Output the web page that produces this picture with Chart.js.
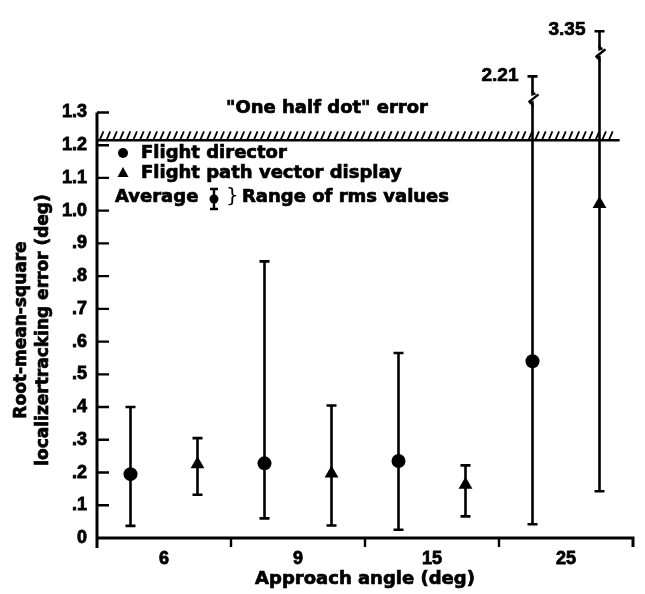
<!DOCTYPE html>
<html>
<head>
<meta charset="utf-8">
<script src="https://cdn.jsdelivr.net/npm/chart.js@4/dist/chart.umd.min.js"></script>
<style>
  html, body { margin: 0; padding: 0; background: #fff; }
  #wrap { width: 645px; height: 594px; }
</style>
</head>
<body>
<div id="wrap"><canvas id="chart" width="645" height="594"></canvas></div>
<script>
// Data
const categories = ['6', '9', '15', '25'];
const fdMean  = [0.195, 0.228, 0.235, 0.54];
const fdLow   = [0.037, 0.060, 0.025, 0.042];
const fdHigh  = [0.40, 0.845, 0.565, 2.21];
const fpvMean = [0.225, 0.197, 0.163, 1.02];
const fpvLow  = [0.132, 0.038, 0.066, 0.143];
const fpvHigh = [0.305, 0.405, 0.222, 3.35];
const yTickValues = [0, 0.1, 0.2, 0.3, 0.4, 0.5, 0.6, 0.7, 0.8, 0.9, 1.0, 1.1, 1.2, 1.3];
const yTickLabels = ['0', '.1', '.2', '.3', '.4', '.5', '.6', '.7', '.8', '.9', '1.0', '1.1', '1.2', '1.3'];
const halfDotError = 1.215;

// axis is broken above 1.3, values beyond are squeezed
const breakAt = 1.3;
const aboveScale = 0.121;
const toAxis = v => v <= breakAt ? v : breakAt + (v - breakAt) * aboveScale;

const textFont = 'bold 18px "DejaVu Sans", sans-serif';
const numFont = { family: '"Liberation Sans", Arial, sans-serif', size: 18, weight: 'bold' };

const fdPoints = categories.map((c, i) => ({ x: i + 0.25, y: toAxis(fdMean[i]) }));
const fpvPoints = categories.map((c, i) => ({ x: i + 0.75, y: toAxis(fpvMean[i]) }));

// heavier text, the scan uses a very black face
function heavyText(ctx, str, x, y) {
    ctx.fillText(str, x, y);
    ctx.strokeText(str, x, y);
}

function drawErrorBar(ctx, lo, hi) {
    ctx.save();
    ctx.strokeStyle = '#000';
    ctx.lineWidth = 2.6;
    ctx.beginPath();
    ctx.moveTo(lo.x, lo.y); ctx.lineTo(hi.x, hi.y);
    ctx.moveTo(lo.x - 5, lo.y); ctx.lineTo(lo.x + 5, lo.y);
    ctx.moveTo(hi.x - 5, hi.y); ctx.lineTo(hi.x + 5, hi.y);
    ctx.stroke();
    ctx.restore();
}

const errorBars = {
    id: 'errorBars',
    beforeDatasetsDraw(chart) {
        const { ctx, scales: { x, y } } = chart;
        const series = [
            { off: 0.25, lo: fdLow, hi: fdHigh },
            { off: 0.75, lo: fpvLow, hi: fpvHigh }
        ];
        series.forEach(s => {
            categories.forEach((c, i) => {
                const px = x.getPixelForValue(i + s.off);
                drawErrorBar(ctx,
                    { x: px, y: y.getPixelForValue(toAxis(s.lo[i])) },
                    { x: px, y: y.getPixelForValue(toAxis(s.hi[i])) });
                if (s.hi[i] > breakAt) {
                    const capY = y.getPixelForValue(toAxis(s.hi[i]));
                    const by = capY + 22;
                    ctx.save();
                    ctx.fillStyle = '#fff';
                    ctx.fillRect(px - 3, by - 5, 6, 10);
                    ctx.strokeStyle = '#000';
                    ctx.lineWidth = 2.4;
                    ctx.beginPath();
                    ctx.moveTo(px, by + 8); ctx.lineTo(px, by + 4);
                    ctx.lineTo(px - 3, by + 5);
                    ctx.moveTo(px - 4, by + 4); ctx.lineTo(px + 6, by - 4);
                    ctx.moveTo(px + 3, by - 5); ctx.lineTo(px, by - 4); ctx.lineTo(px, by - 8);
                    ctx.stroke();
                    ctx.fillStyle = '#000';
                    ctx.lineWidth = 0.7;
                    ctx.font = 'bold 19px "Liberation Sans", Arial, sans-serif';
                    ctx.textAlign = 'right';
                    ctx.textBaseline = 'middle';
                    heavyText(ctx, s.hi[i].toFixed(2), px - 14, capY - 1);
                    ctx.restore();
                }
            });
        });
    }
};

const decorations = {
    id: 'decorations',
    afterDraw(chart) {
        const { ctx, chartArea, scales: { x, y } } = chart;
        const x0 = chartArea.left, x1 = chartArea.right, y0 = y.getPixelForValue(0);
        ctx.save();
        ctx.strokeStyle = '#000';
        ctx.fillStyle = '#000';

        // axes
        ctx.lineWidth = 3;
        ctx.beginPath();
        ctx.moveTo(x0, y.getPixelForValue(1.3)); ctx.lineTo(x0, y0 + 10);
        ctx.moveTo(x0, y0); ctx.lineTo(x1, y0); ctx.lineTo(x1, y0 + 9);
        ctx.stroke();
        ctx.lineWidth = 2.4;
        ctx.beginPath();
        yTickValues.slice(1).forEach(v => {
            const py = y.getPixelForValue(v);
            ctx.moveTo(x0, py); ctx.lineTo(x0 + 12, py);
        });
        for (let i = 1; i < categories.length; i++) {
            const px = x.getPixelForValue(i);
            ctx.moveTo(px, y0); ctx.lineTo(px, y0 + 9);
        }
        ctx.stroke();

        // "one half dot" line with hatching
        const hy = y.getPixelForValue(halfDotError);
        const hEnd = x.getPixelForValue(3.9);
        ctx.lineWidth = 2.6;
        ctx.beginPath();
        ctx.moveTo(x0, hy); ctx.lineTo(hEnd, hy);
        ctx.stroke();
        ctx.lineWidth = 1.8;
        ctx.beginPath();
        for (let hx = x0 + 3; hx < hEnd - 4; hx += 6.7) {
            ctx.moveTo(hx, hy - 1); ctx.lineTo(hx + 3.5, hy - 9);
        }
        ctx.stroke();

        ctx.lineWidth = 0.7;
        ctx.font = textFont;
        ctx.textBaseline = 'middle';
        ctx.textAlign = 'center';
        heavyText(ctx, '"One half dot" error', 327, 108);
        heavyText(ctx, 'Approach angle (deg)', (x0 + x1) / 2, 579);

        // legend
        ctx.textAlign = 'left';
        ctx.beginPath();
        ctx.arc(123, 153, 5, 0, Math.PI * 2);
        ctx.fill();
        heavyText(ctx, 'Flight director', 141, 153);
        ctx.beginPath();
        ctx.moveTo(123, 167); ctx.lineTo(128.5, 177); ctx.lineTo(117.5, 177);
        ctx.closePath();
        ctx.fill();
        heavyText(ctx, 'Flight path vector display', 141, 173);
        heavyText(ctx, 'Average', 115, 197);
        ctx.lineWidth = 2.4;
        ctx.beginPath();
        ctx.moveTo(214, 189); ctx.lineTo(214, 209);
        ctx.moveTo(210, 189); ctx.lineTo(218, 189);
        ctx.moveTo(210, 209); ctx.lineTo(218, 209);
        ctx.stroke();
        ctx.beginPath();
        ctx.arc(214, 199, 4.5, 0, Math.PI * 2);
        ctx.fill();
        ctx.font = '20px "DejaVu Sans", sans-serif';
        ctx.fillText('}', 226, 197);
        ctx.lineWidth = 0.7;
        ctx.font = textFont;
        heavyText(ctx, 'Range of rms values', 242, 197);

        // y axis title, two lines
        ctx.font = 'bold 17px "DejaVu Sans", sans-serif';
        ctx.textAlign = 'center';
        ctx.translate(22, 330);
        ctx.rotate(-Math.PI / 2);
        heavyText(ctx, 'Root-mean-square', 0, 0);
        heavyText(ctx, 'localizertracking error (deg)', 0, 22);
        ctx.restore();
    }
};

const ctx = document.getElementById('chart').getContext('2d');

new Chart(ctx, {
    type: 'scatter',
    data: {
        datasets: [{
            label: 'Flight director',
            data: fdPoints,
            pointStyle: 'circle',
            pointRadius: 7,
            backgroundColor: '#000',
            borderColor: '#000',
            borderWidth: 0
        }, {
            label: 'Flight path vector display',
            data: fpvPoints,
            pointStyle: 'triangle',
            pointRadius: 8,
            backgroundColor: '#000',
            borderColor: '#000',
            borderWidth: 0
        }]
    },
    options: {
        responsive: false,
        devicePixelRatio: 1,
        animation: false,
        layout: { padding: { top: 4, right: 12, left: 0, bottom: 0 } },
        plugins: {
            legend: { display: false },
            tooltip: { enabled: false }
        },
        scales: {
            x: {
                type: 'linear',
                min: 0,
                max: 4,
                afterBuildTicks: s => { s.ticks = categories.map((c, i) => ({ value: i + 0.5 })); },
                afterFit: s => { s.height = 56; },
                grid: { display: false, drawTicks: false },
                border: { display: false },
                ticks: {
                    autoSkip: false,
                    maxRotation: 0,
                    padding: 10,
                    color: '#000',
                    textStrokeColor: '#000',
                    textStrokeWidth: 0.8,
                    font: numFont,
                    callback: v => categories[Math.round(v - 0.5)]
                }
            },
            y: {
                min: 0,
                max: 1.58,
                afterBuildTicks: s => { s.ticks = yTickValues.map(v => ({ value: v })); },
                afterFit: s => { s.width = 97; },
                grid: { display: false, drawTicks: false },
                border: { display: false },
                ticks: {
                    autoSkip: false,
                    padding: 10,
                    color: '#000',
                    textStrokeColor: '#000',
                    textStrokeWidth: 0.8,
                    font: numFont,
                    callback: (v, i) => yTickLabels[i]
                }
            }
        }
    },
    plugins: [errorBars, decorations]
});
</script>
</body>
</html>
